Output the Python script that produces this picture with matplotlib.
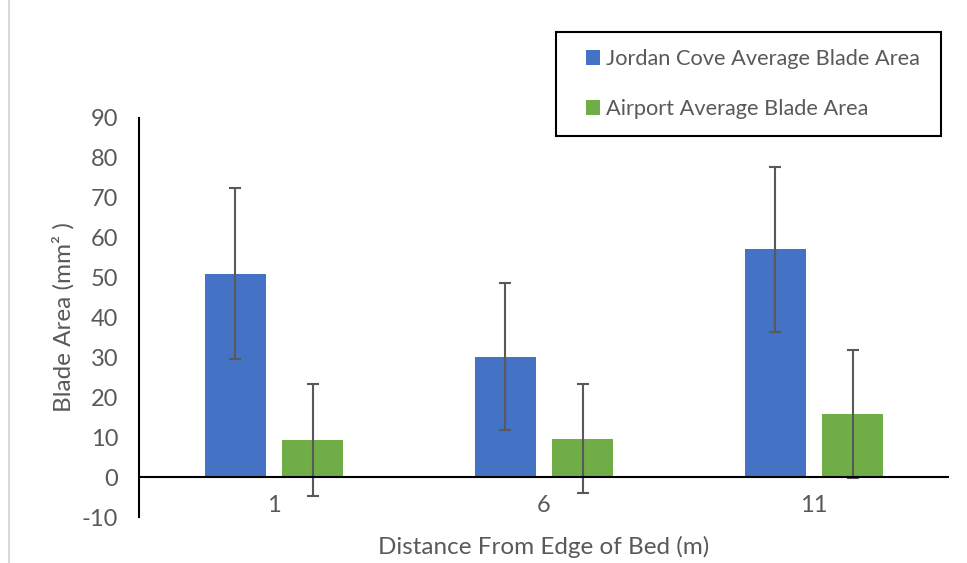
import matplotlib.pyplot as plt
from matplotlib.lines import Line2D
from matplotlib.patches import Rectangle
import numpy as np

plt.rcParams['font.family'] = ['Lato', 'DejaVu Sans']
plt.rcParams['axes.unicode_minus'] = False

# data
distances = ['1', '6', '11']
jordan_mean = [51.0, 30.2, 57.1]
jordan_err = [21.5, 18.5, 20.7]
airport_mean = [9.3, 9.6, 15.8]
airport_err = [14.0, 13.7, 16.0]
series_labels = ['Jordan Cove Average Blade Area', 'Airport Average Blade Area']

blue = '#4472C4'
green = '#70AD47'
text_grey = '#595959'
err_grey = '#595959'

W, H = 967, 563
fig = plt.figure(figsize=(9.67, 5.63), dpi=100)
ax = fig.add_axes([139 / W, 1 - 517 / H, 810 / W, 399 / H])

x = np.arange(len(distances))
width = 0.226
off = 0.1426
err_kw = dict(ecolor=err_grey, elinewidth=1.5, capsize=4, capthick=1.5)
ax.bar(x - off, jordan_mean, width, yerr=jordan_err, color=blue,
       label=series_labels[0], error_kw=err_kw, zorder=2)
ax.bar(x + off, airport_mean, width, yerr=airport_err, color=green,
       label=series_labels[1], error_kw=err_kw, zorder=2)

ax.axhline(0, color='black', linewidth=1.5, zorder=3)

ax.set_xlim(-0.5, 2.5)
ax.set_ylim(-10, 90)
ax.set_yticks(np.arange(-10, 91, 10))
ax.set_xticks(x)
ax.set_xticklabels(distances)

for s in ['top', 'right', 'bottom']:
    ax.spines[s].set_visible(False)
ax.spines['left'].set_linewidth(1.5)
ax.spines['left'].set_color('black')

ax.tick_params(axis='y', length=0, pad=15, labelsize=17, labelcolor=text_grey)
ax.tick_params(axis='x', length=0, pad=-16, labelsize=17, labelcolor=text_grey)

ax.set_xlabel('Distance From Edge of Bed (m)', fontsize=17.5, color=text_grey,
              va='center')
ax.xaxis.set_label_coords(0.5, -(547 - 517) / 399)
ax.set_ylabel('Blade Area (mm² )', fontsize=17.5, color=text_grey, va='center')
ax.yaxis.set_label_coords(-(139 - 63) / 810, 0.5)

# legend: frame drawn separately so the inner padding can match
fig.add_artist(Rectangle((556 / W, 1 - 136 / H), 385 / W, 104 / H,
                         transform=fig.transFigure, facecolor='white',
                         edgecolor='black', linewidth=1.5, zorder=4))
handles, labels = ax.get_legend_handles_labels()
leg = fig.legend(handles, labels, loc='upper left',
                 bbox_to_anchor=(586 / W, 1 - 49 / H),
                 bbox_transform=fig.transFigure, fontsize=15.7, frameon=False,
                 handlelength=0.65, handleheight=0.65, handletextpad=0.25,
                 labelspacing=1.38, borderpad=0, borderaxespad=0)
for t in leg.get_texts():
    t.set_color(text_grey)
leg.set_zorder(5)

# thin grey frame edge on the left of the chart area
fig.add_artist(Line2D([8.5 / W, 8.5 / W], [0, 1], color='#d9d9d9',
                      linewidth=1.5, transform=fig.transFigure))

fig.savefig('out.png', dpi=100)
